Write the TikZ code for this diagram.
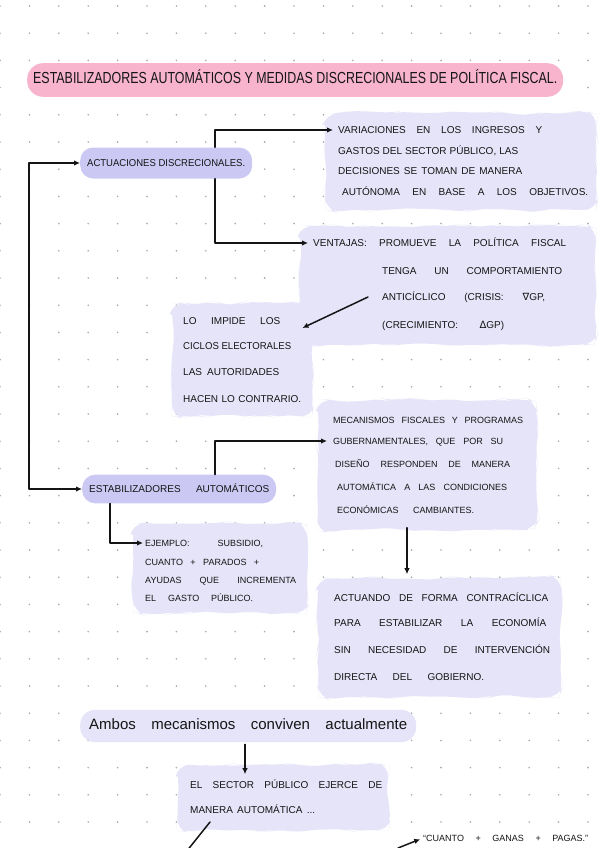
\documentclass[tikz,border=0pt]{standalone}
\usepackage{fontspec}
\setmainfont{Liberation Sans}
\newfontfamily\symf{DejaVu Sans}
\usepackage{graphicx}
\usetikzlibrary{arrows.meta,calc,decorations.pathmorphing}
\definecolor{pinkhl}{HTML}{F8B4CD}
\definecolor{lavS}{HTML}{CBC9F3}
\definecolor{lavL}{HTML}{E6E4F8}
\definecolor{ink}{HTML}{151515}
\definecolor{dotc}{HTML}{A8A8A8}
\newsavebox\hwbox
\newcommand\hw[2]{\sbox\hwbox{#2}\ifdim\wd\hwbox>#1pt\relax\resizebox{#1pt}{\height}{\usebox\hwbox}\else\makebox[#1pt][s]{#2}\fi}
\tikzset{
  x=1pt, y=-1pt,
  >={Latex[length=6pt,width=5.5pt]},
  hl/.style={anchor=west, inner sep=0pt, text height=0.72em, text depth=0pt,
             font=\fontsize{10}{11}\selectfont, text=ink},
  hls/.style={hl, font=\fontsize{9}{10}\selectfont},
  hlnode/.style={hl, fill=lavS, rounded corners=13pt, inner xsep=7pt},
  con/.style={draw=ink, line width=1.5pt, line cap=round, line join=round},
  blob/.style={decorate, decoration={random steps, segment length=11pt, amplitude=2pt}, rounded corners=12pt},
  blobL/.style={blob, fill=lavL},
}
\begin{document}
\begin{tikzpicture}
\pgfmathsetseed{7}
\useasboundingbox (0,0) rectangle (600,848);
\fill[white] (0,0) rectangle (600,848);
% dot grid
\foreach \i in {0,...,20}{
  \foreach \j in {0,...,30}{
    \fill[dotc] ({29.4*\i},{6+27.2*\j}) circle (0.9);
  }
}
% blobs
\fill[blobL] (325,113) rectangle (596,210);
\fill[blobL] (300,226) rectangle (596,345);
\fill[blobL] (172,303) rectangle (312,416);
\fill[blobL] (318,400) rectangle (537,530);
\fill[blobL] (133,523) rectangle (307,613);
\fill[blobL] (318,578) rectangle (561,697);
\fill[blobL] (178,765) rectangle (388,830);

% reference coordinates for connector columns
\coordinate (xb) at (29,0);
\coordinate (xv) at (215,0);
\coordinate (xe) at (110,0);
\coordinate (xa) at (407,0);
\coordinate (xs) at (245,0);

% title
\node[hl, fill=pinkhl, rounded corners=16pt, inner xsep=6pt, inner ysep=13.2pt,
      font=\fontsize{16}{17}\selectfont] (title) at (27,80)
  {\hw{524}{ESTABILIZADORES AUTOMÁTICOS Y MEDIDAS DISCRECIONALES DE POLÍTICA FISCAL.}};

% main nodes
\node[hlnode, inner ysep=11.9pt] (act) at (80,163) {\hw{158}{ACTUACIONES DISCRECIONALES.}};
\node[hlnode, inner ysep=10.7pt] (estab) at (82,489) {\hw{180}{ESTABILIZADORES AUTOMÁTICOS}};

% box 1
\node[hl] (b1) at (338,130) {\hw{204}{VARIACIONES EN LOS INGRESOS Y}};
\node[hl] (b2) at (338,151) {\hw{180}{GASTOS DEL SECTOR PÚBLICO, LAS}};
\node[hl] (b3) at (338,171) {\hw{184}{DECISIONES SE TOMAN DE MANERA}};
\node[hl] (b4) at (342,192) {\hw{246}{AUTÓNOMA EN BASE A LOS OBJETIVOS.}};

% ventajas
\node[hl] (v1) at (313,243) {\hw{253}{VENTAJAS: PROMUEVE LA POLÍTICA FISCAL}};
\node[hl] (v2) at (382,271) {\hw{180}{TENGA UN COMPORTAMIENTO}};
\node[hl] (v3) at (382,297) {\hw{163}{ANTICÍCLICO (CRISIS: {\symf ∇}GP,}};
\node[hl] (v4) at (382,325) {\hw{122}{(CRECIMIENTO: {\symf Δ}GP)}};

% lo impide
\node[hl] (li1) at (183,321) {\hw{97}{LO IMPIDE LOS}};
\node[hl] (li2) at (183,346) {\hw{108}{CICLOS ELECTORALES}};
\node[hl] (li3) at (183,372) {\hw{96}{LAS AUTORIDADES}};
\node[hl] (li4) at (183,399) {\hw{118}{HACEN LO CONTRARIO.}};

% mecanismos
\node[hls] (m1) at (333,420) {\hw{190}{MECANISMOS FISCALES Y PROGRAMAS}};
\node[hls] (m2) at (333,441) {\hw{170}{GUBERNAMENTALES, QUE POR SU}};
\node[hls] (m3) at (335,464) {\hw{175}{DISEÑO RESPONDEN DE MANERA}};
\node[hls] (m4) at (337,487) {\hw{170}{AUTOMÁTICA A LAS CONDICIONES}};
\node[hls] (m5) at (337,510) {\hw{137}{ECONÓMICAS CAMBIANTES.}};

% ejemplo
\node[hls] (e1) at (145,543) {\hw{118}{EJEMPLO: SUBSIDIO,}};
\node[hls] (e2) at (145,562) {\hw{114}{CUANTO + PARADOS +}};
\node[hls] (e3) at (145,580) {\hw{151}{AYUDAS QUE INCREMENTA}};
\node[hls] (e4) at (145,598) {\hw{108}{EL GASTO PÚBLICO.}};

% actuando
\node[hl] (a1) at (334,598) {\hw{214}{ACTUANDO DE FORMA CONTRACÍCLICA}};
\node[hl] (a2) at (334,623) {\hw{212}{PARA ESTABILIZAR LA ECONOMÍA}};
\node[hl] (a3) at (334,650) {\hw{216}{SIN NECESIDAD DE INTERVENCIÓN}};
\node[hl] (a4) at (334,677) {\hw{150}{DIRECTA DEL GOBIERNO.}};

% ambos
\node[hl, fill=lavL, rounded corners=15pt, inner xsep=9pt, inner ysep=12.6pt,
      font=\fontsize{15}{16}\selectfont] (ambos) at (80,726)
  {\hw{318}{Ambos mecanismos conviven actualmente}};

% sector
\node[hl] (s1) at (190,785) {\hw{192}{EL SECTOR PÚBLICO EJERCE DE}};
\node[hl] (s2) at (190,810) {\hw{125}{MANERA AUTOMÁTICA ...}};

% cuanto
\node[hls] (c1) at (423,838) {\hw{165}{“CUANTO + GANAS + PAGAS.”}};

\coordinate (offA) at (186,852);
\coordinate (offB) at (398,848);

% connectors
\draw[con,<->] (act.west) -- (act.west -| xb) |- (estab.west);
\draw[con,->,shorten >=5pt] (act.north -| xv) |- (b1.west);
\draw[con,->,shorten >=5pt] (act.south -| xv) |- (v1.west);
\draw[con,->] ($(v3.west)+(-14,0)$) -- ($(li1.east)+(22,7)$);
\draw[con,->,shorten >=6pt] (estab.north -| xv) |- (m2.west);
\draw[con,->,shorten >=2pt] (estab.south -| xe) |- (e1.west);
\draw[con,->,shorten <=14pt,shorten >=20pt] (m5.south -| xa) -- (a1.north -| xa);
\draw[con,->,shorten <=2pt,shorten >=7pt] (ambos.south -| xs) -- (s1.north -| xs);
\draw[con] ($(s2.west)+(20,12)$) -- (offA);
\draw[con,->,shorten >=3pt] (offB) -- (c1.west);
\end{tikzpicture}
\end{document}
